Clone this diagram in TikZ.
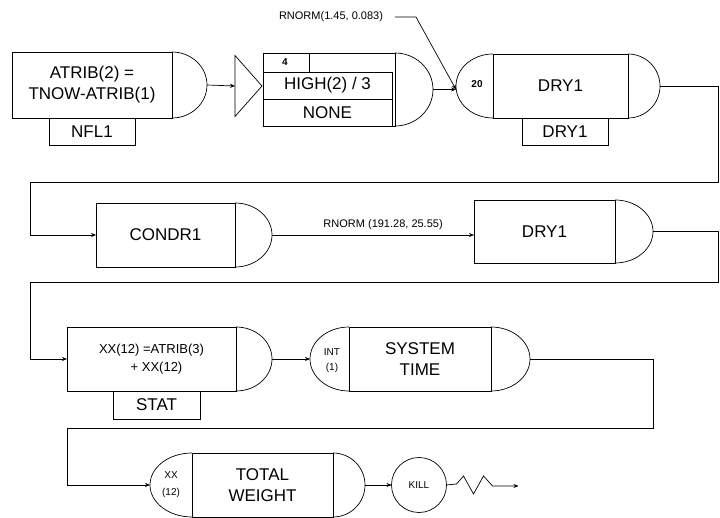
\documentclass[tikz,border=0pt]{standalone}
\usepackage{fontspec}
\setmainfont{Liberation Sans}
\usetikzlibrary{arrows.meta, positioning, shapes.geometric}

\begin{document}
\begin{tikzpicture}[
  x=1pt, y=1pt,
  line width=0.7pt,
  >={Stealth[length=5pt,width=4pt]},
  every node/.style={inner sep=0pt, outer sep=0pt},
  %% ── Block styles ────────────────────────────────────────────────────────
  body/.style={
    draw, minimum height=64pt, align=center,
    font={\fontsize{17}{21}\selectfont}
  },
  resource/.style={
    draw, minimum width=86pt, minimum height=27pt,
    font={\fontsize{17}{19}\selectfont}
  },
  qrow/.style={
    draw, minimum width=129pt, minimum height=27pt,
    font={\fontsize{17}{19}\selectfont}
  },
  %% ── Text styles ─────────────────────────────────────────────────────────
  tag/.style={font={\fontsize{10}{15}\selectfont}, align=center},
  lbl/.style={font={\fontsize{11}{13}\selectfont}},
  %% ── Arrow style ─────────────────────────────────────────────────────────
  arr/.style={->},
]

\useasboundingbox (0,0) rectangle (720,517);

%% ═══════════════════════════════════════════════════════════════════════════
%% ROW 1
%% ═══════════════════════════════════════════════════════════════════════════

%% — Assign block ────────────────────────────────────────────────────────────
\node[body, minimum width=160pt, minimum height=66pt]
  (atrib) at (92, 432)
  {ATRIB(2) =\\TNOW-ATRIB(1)};
\draw (atrib.north east)
  arc[start angle=90, end angle=-90, x radius=35pt, y radius=33pt];
\path (atrib.east) ++(35,0) coordinate (atrib-out);

\node[resource, below=0pt of atrib] (nfl1) {NFL1};

%% — Queue block ─────────────────────────────────────────────────────────────
\node[draw, isosceles triangle, isosceles triangle stretches,
      minimum width=61pt, minimum height=27pt, anchor=west]
  (gate) at (235, 431) {};

\node[draw, minimum width=132pt, minimum height=73pt]
  (queue) at (329, 427.5) {};
\node[qrow] (qrank)  at (327.5, 431.5) {HIGH(2) / 3};
\node[qrow] (qblock) at (327.5, 404.5) {NONE};
\draw ([xshift=46pt]queue.north west) -- ([xshift=46pt]qrank.north west);
\node[tag, font={\fontsize{10}{12}\bfseries\selectfont}]
  (qcap) at (285, 455) {4};
\draw (queue.north east)
  arc[start angle=90, end angle=-90, x radius=38pt, y radius=36.5pt];
\path (queue.east) ++(38,0) coordinate (queue-out);

%% — Activity DRY1 ───────────────────────────────────────────────────────────
\node[body, minimum width=135pt] (dry1) at (560.5, 431) {DRY1};
\draw (dry1.north west)
  arc[start angle=90, end angle=270, x radius=37pt, y radius=32pt];
\draw (dry1.north east)
  arc[start angle=90, end angle=-90, x radius=32pt, y radius=32pt];
\path (dry1.west) ++(-37,0) coordinate (dry1-in);
\path (dry1.east) ++(32,0)  coordinate (dry1-out);
\node[tag, font={\fontsize{10}{12}\bfseries\selectfont}]
  (dry1-dur) at (477, 433) {20};

\node[resource, below=0pt of dry1, xshift=4.5pt] (dry1res) {DRY1};

\node[lbl] (rnormA) at (331, 500) {RNORM(1.45, 0.083)};

%% ═══════════════════════════════════════════════════════════════════════════
%% ROW 2
%% ═══════════════════════════════════════════════════════════════════════════

\node[body, minimum width=139pt] (condr1) at (165.5, 282) {CONDR1};
\draw (condr1.north east)
  arc[start angle=90, end angle=-90, x radius=37pt, y radius=32pt];
\path (condr1.east) ++(37,0) coordinate (condr1-out);

\node[body, minimum width=141pt, minimum height=63pt]
  (dry1b) at (544.5, 285.5) {DRY1};
\draw (dry1b.north east)
  arc[start angle=90, end angle=-90, x radius=38pt, y radius=31.5pt];
\path (dry1b.east) ++(38,0) coordinate (dry1b-out);

%% ═══════════════════════════════════════════════════════════════════════════
%% ROW 3
%% ═══════════════════════════════════════════════════════════════════════════

\node[body, minimum width=169pt, font={\fontsize{13}{18}\selectfont}]
  (xx) at (151.5, 158) {XX(12) =ATRIB(3)\\\hspace*{10pt}+ XX(12)};
\draw (xx.north east)
  arc[start angle=90, end angle=-90, x radius=36pt, y radius=32pt];
\path (xx.east) ++(36,0) coordinate (xx-out);

\node[resource, minimum width=87pt, minimum height=28pt,
      below=0pt of xx, xshift=5pt] (stat) {STAT};

\node[body, minimum width=142pt] (sys) at (420, 158) {SYSTEM\\TIME};
\draw (sys.north west)
  arc[start angle=90, end angle=270, x radius=39pt, y radius=32pt];
\draw (sys.north east)
  arc[start angle=90, end angle=-90, x radius=39pt, y radius=32pt];
\path (sys.west) ++(-39,0) coordinate (sys-in);
\path (sys.east) ++(39,0)  coordinate (sys-out);
\node[tag] (sys-type) at (332, 156) {INT\\(1)};

%% ═══════════════════════════════════════════════════════════════════════════
%% ROW 4
%% ═══════════════════════════════════════════════════════════════════════════

\node[body, minimum width=141pt] (tw) at (262.5, 32) {TOTAL\\WEIGHT};
\draw (tw.north west)
  arc[start angle=90, end angle=270, x radius=42pt, y radius=32pt];
\draw (tw.north east)
  arc[start angle=90, end angle=-90, x radius=32pt, y radius=32pt];
\path (tw.west) ++(-42,0) coordinate (tw-in);
\path (tw.east) ++(32,0)  coordinate (tw-out);
\node[tag, font={\fontsize{10}{17}\selectfont}]
  (tw-type) at (171, 32) {XX\\(12)};

\node[draw, circle, minimum size=55pt, tag] (kill) at (419, 32) {KILL};

%% ═══════════════════════════════════════════════════════════════════════════
%% CONNECTORS
%% ═══════════════════════════════════════════════════════════════════════════

\draw[arr] (atrib-out) -- (gate.west);
\draw[arr] (queue-out) -- (queue-out -| dry1-in);
\draw[arr] ([xshift=12pt]rnormA.east) -- ++(21,0) -- (queue-out -| dry1-in);

\draw[arr] (dry1-out) -- ++(58,0) |- (30,335) |- (condr1.west);

\draw[arr] (condr1-out) --
    node[lbl, pos=0.55, above=5pt] {RNORM (191.28, 25.55)}
  (condr1-out -| dry1b.west);

\draw[arr] (dry1b-out) -- ++(65,0) |- (30,235) |- (xx.west);

\draw[arr] (xx-out) -- (sys-in);

\draw[arr] (sys-out) -- ++(123,0) |- (67,89) |- (tw-in);

\draw[arr] (tw-out) -- (kill.west);
\draw[arr] (kill.east) -- ++(10,1) -- ++(7,8) -- ++(10,-18) -- ++(10,18)
  -- ++(9,-10) -- ++(26,0);

\end{tikzpicture}
\end{document}
